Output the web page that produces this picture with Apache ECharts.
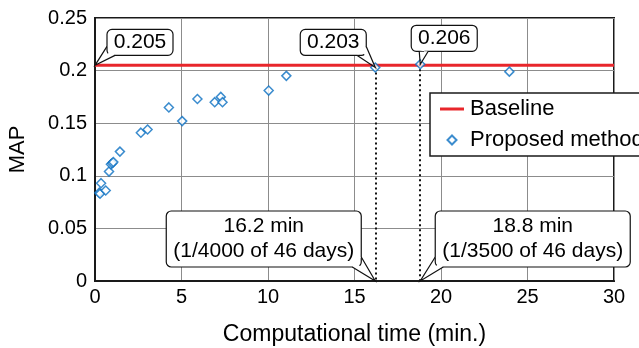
<!DOCTYPE html>
<html><head><meta charset="utf-8">
<script src="https://cdn.jsdelivr.net/npm/echarts@6/dist/echarts.min.js"></script>
<style>html,body{margin:0;padding:0;background:#fff}#c{width:639px;height:348px}</style>
</head><body><div id="c"></div>
<script>
// ---- data ----
const timeMin = [0.25, 0.35, 0.29, 0.62, 0.81, 0.92, 1.0, 1.06, 1.44, 2.65, 3.04, 4.27, 5.04, 5.92, 6.92, 7.27, 7.37, 10.04, 11.06, 16.2, 18.8, 23.95];
const mapVals = [0.084, 0.093, 0.083, 0.086, 0.104, 0.111, 0.112, 0.113, 0.123, 0.141, 0.144, 0.165, 0.152, 0.173, 0.170, 0.175, 0.170, 0.181, 0.195, 0.203, 0.206, 0.199];
const baselineMAP = 0.205;
const xRange = [0, 30];
const yTicks = [0, 0.05, 0.1, 0.15, 0.2, 0.25];
const xTicks = [0, 5, 10, 15, 20, 25, 30];
const highlightTimes = [16.2, 18.8];
const highlightMAP = [0.203, 0.206];
const timeNotes = [["16.2 min", "(1/4000 of 46 days)"], ["18.8 min", "(1/3500 of 46 days)"]];
const seriesNames = ["Baseline", "Proposed method"];

const FONT = '"Liberation Sans", Arial, Helvetica, sans-serif';
const chart = echarts.init(document.getElementById('c'), null, {renderer: 'canvas'});

const pts = timeMin.map((t, i) => [t, mapVals[i]]);
const option = {
  animation: false,
  backgroundColor: '#fff',
  textStyle: {fontFamily: FONT, color: '#000'},
  grid: {left: 95, right: 25, top: 18, bottom: 67, show: true, borderColor: '#1a1a1a', borderWidth: 2,
    containLabel: false, outerBoundsMode: 'none'},
  xAxis: {
    type: 'value', min: xRange[0], max: xRange[1], interval: xTicks[1] - xTicks[0],
    name: 'Computational time (min.)', nameLocation: 'middle', nameGap: 42,
    nameTextStyle: {fontSize: 23, fontFamily: FONT, color: '#000'},
    axisLine: {lineStyle: {color: '#1a1a1a', width: 2}}, axisTick: {show: false},
    axisLabel: {fontSize: 20, color: '#000', fontFamily: FONT, margin: 6},
    splitLine: {lineStyle: {color: '#8c8c8c', width: 1}}
  },
  yAxis: {
    type: 'value', min: yTicks[0], max: yTicks[yTicks.length - 1], interval: yTicks[1] - yTicks[0],
    name: 'MAP', nameLocation: 'middle', nameGap: 66, nameRotate: 90,
    nameTextStyle: {fontSize: 22, fontFamily: FONT, color: '#000'},
    axisLine: {lineStyle: {color: '#1a1a1a', width: 2}}, axisTick: {show: false},
    axisLabel: {fontSize: 20, color: '#000', fontFamily: FONT, margin: 8},
    splitLine: {lineStyle: {color: '#8c8c8c', width: 1}}
  },
  legend: {
    left: 430, top: 93, orient: 'vertical', backgroundColor: '#fff',
    borderColor: '#1a1a1a', borderWidth: 1.5, borderRadius: 0,
    padding: [5, 12, 5, 10], itemGap: 9, itemWidth: 24, itemHeight: 9,
    textStyle: {fontSize: 22, fontFamily: FONT, color: '#000', padding: [0, 0, 0, 1]},
    data: [
      {name: seriesNames[0], icon: 'path://M0,0 L24,0 L24,3 L0,3 Z'},
      {name: seriesNames[1], icon: 'path://M5,0 L10,5 L5,10 L0,5 Z'}
    ]
  },
  series: [
    {
      name: seriesNames[1], type: 'scatter', data: pts, symbol: 'diamond', symbolSize: 9, z: 4,
      itemStyle: {color: '#fff', borderColor: '#0a6fc2', borderWidth: 1.5},
      markLine: {
        silent: true, symbol: 'none', label: {show: false}, z: 2,
        lineStyle: {color: '#111', type: [2, 3], width: 2},
        data: highlightTimes.map((t, i) => [{coord: [t, highlightMAP[i]]}, {coord: [t, 0]}])
      }
    },
    {
      name: seriesNames[0], type: 'line', data: [[xRange[0], baselineMAP], [xRange[1], baselineMAP]],
      showSymbol: false, symbol: 'none', z: 3,
      lineStyle: {color: '#e8262b', width: 3}, itemStyle: {color: '#e8262b'}
    }
  ]
};
chart.setOption(option);

// ---- callout annotations (positions relative to the data points they point at) ----
function px(x, y) { return chart.convertToPixel({gridIndex: 0}, [x, y]); }
function midIn(base, box) {
  const cx = box[0] + box[2] / 2, cy = box[1] + box[3] / 2;
  const mx = (base[0][0] + base[1][0]) / 2, my = (base[0][1] + base[1][1]) / 2;
  return [mx + (cx - mx) * 0.05, my + (cy - my) * 0.15];
}
function callout(tip, box, base, lines, fs) {
  const els = [];
  els.push({type: 'rect', z: 100, shape: {x: box[0], y: box[1], width: box[2], height: box[3], r: 5},
    style: {fill: '#fff', stroke: '#111', lineWidth: 1.2}});
  els.push({type: 'polygon', z: 101, shape: {points: [base[0], base[1], tip, midIn(base, box)]},
    style: {fill: '#fff', stroke: null}});
  els.push({type: 'polyline', z: 102, shape: {points: [base[0], tip, base[1]]},
    style: {fill: null, stroke: '#111', lineWidth: 1.2}});
  const lh = 25;
  const cy = box[1] + box[3] / 2 - (lines.length - 1) * lh / 2;
  lines.forEach((t, i) => {
    els.push({type: 'text', z: 103, style: {text: t, x: box[0] + box[2] / 2, y: cy + i * lh,
      textAlign: 'center', textVerticalAlign: 'middle', font: fs + 'px ' + FONT, fill: '#000'}});
  });
  return els;
}

const tB = px(xRange[0], baselineMAP);
const t1 = px(highlightTimes[0], highlightMAP[0]);
const t2 = px(highlightTimes[1], highlightMAP[1]);
const b1 = px(highlightTimes[0], 0);
const b2 = px(highlightTimes[1], 0);

let g = [];
g = g.concat(callout(tB, [tB[0] + 12, tB[1] - 36, 66, 26], [[tB[0] + 12, tB[1] - 19], [tB[0] + 20, tB[1] - 10]], [baselineMAP.toFixed(3)], 21));
g = g.concat(callout(t1, [t1[0] - 75, t1[1] - 38, 66, 26], [[t1[0] - 18, t1[1] - 12], [t1[0] - 9, t1[1] - 21]], [highlightMAP[0].toFixed(3)], 21));
g = g.concat(callout(t2, [t2[0] - 9, t2[1] - 39, 66, 26], [[t2[0] - 1, t2[1] - 13], [t2[0] + 8, t2[1] - 13]], [highlightMAP[1].toFixed(3)], 21));
g = g.concat(callout(b1, [b1[0] - 209, b1[1] - 70, 195, 56], [[b1[0] - 14, b1[1] - 24], [b1[0] - 23, b1[1] - 14]], timeNotes[0], 21));
g = g.concat(callout(b2, [b2[0] + 15, b2[1] - 70, 195, 56], [[b2[0] + 15, b2[1] - 24], [b2[0] + 23, b2[1] - 14]], timeNotes[1], 21));
chart.setOption({graphic: g});
</script></body></html>
